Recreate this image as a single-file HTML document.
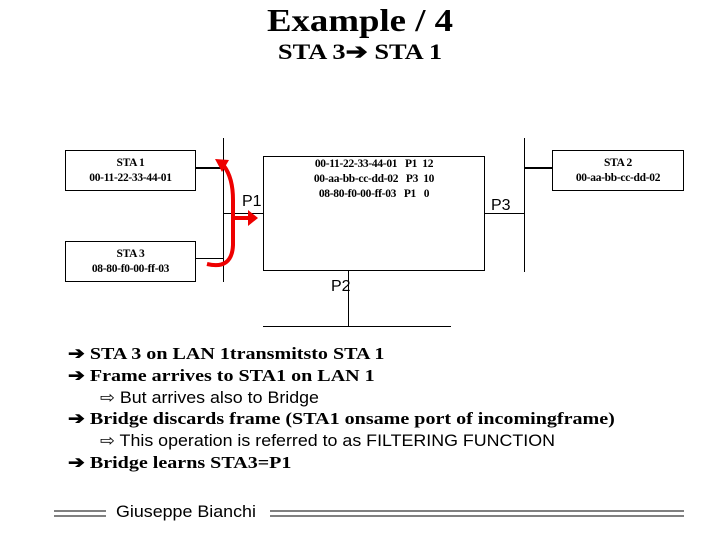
<!DOCTYPE html>
<html><head><style>
body{margin:0;width:720px;height:540px;background:#fff;position:relative;overflow:hidden;font-family:"Liberation Serif",serif}
.t{position:absolute;white-space:nowrap}
.b{position:absolute;border:1px solid #000;box-sizing:border-box;text-align:center;font-size:11.5px;line-height:15px;font-family:"Liberation Serif",serif;font-weight:bold;letter-spacing:-0.3px}
.l{position:absolute;background:#000}
.s{font-family:"Liberation Sans",sans-serif}
.bul{position:absolute;left:68px;font-weight:bold;font-size:17px;white-space:nowrap;transform:scaleX(1.18);transform-origin:0 0}
.sub{position:absolute;left:100px;font-family:"Liberation Sans",sans-serif;font-size:16.5px;white-space:nowrap;transform:scaleX(1.08);transform-origin:0 0}
</style></head><body>
<div class="t" style="left:0;width:720px;text-align:center;top:2px;font-size:32px;font-weight:bold;transform:scaleX(1.15)">Example / 4</div>
<div class="t" style="left:0;width:720px;text-align:center;top:39px;font-size:22px;font-weight:bold;transform:scaleX(1.2)">STA 3&#x2794; STA 1</div>

<div class="b" style="left:65px;top:150px;width:131px;height:41px;padding-top:5px">STA 1<br>00-11-22-33-44-01</div>
<div class="b" style="left:65px;top:241px;width:131px;height:41px;padding-top:5px">STA 3<br>08-80-f0-00-ff-03</div>
<div class="b" style="left:552px;top:150px;width:132px;height:41px;padding-top:5px">STA 2<br>00-aa-bb-cc-dd-02</div>
<div class="b" style="left:263px;top:156px;width:222px;height:115px;padding-top:0px">00-11-22-33-44-01&nbsp;&nbsp; P1&nbsp; 12<br>00-aa-bb-cc-dd-02&nbsp;&nbsp; P3&nbsp; 10<br>08-80-f0-00-ff-03&nbsp;&nbsp; P1&nbsp;&nbsp; 0</div>

<div class="l" style="left:223px;top:138px;width:1px;height:144px"></div>
<div class="l" style="left:196px;top:167px;width:27px;height:2px"></div>
<div class="l" style="left:196px;top:258px;width:27px;height:1px"></div>
<div class="l" style="left:223px;top:213px;width:40px;height:1px"></div>
<div class="l" style="left:524px;top:138px;width:1px;height:134px"></div>
<div class="l" style="left:525px;top:167px;width:27px;height:2px"></div>
<div class="l" style="left:485px;top:213px;width:39px;height:1px"></div>
<div class="l" style="left:348px;top:271px;width:1px;height:55px"></div>
<div class="l" style="left:263px;top:326px;width:188px;height:1px"></div>

<div class="t s" style="left:242px;top:193px;font-size:16px">P1</div>
<div class="t s" style="left:491px;top:197px;font-size:16px">P3</div>
<div class="t s" style="left:331px;top:278px;font-size:16px">P2</div>

<svg width="720" height="540" style="position:absolute;left:0;top:0">
<path d="M207,264 Q232,270 233,245 L233,200 Q233,178 224,166" fill="none" stroke="#e00" stroke-width="4"/>
<polygon points="215,159 229,160 222,172" fill="#e00"/>
<line x1="233" y1="218" x2="250" y2="218" stroke="#e00" stroke-width="4"/>
<polygon points="248,210 258,218 248,226" fill="#e00"/>
<line x1="54" y1="511" x2="106" y2="511" stroke="#000"/>
<line x1="54" y1="516" x2="106" y2="516" stroke="#000"/>
<line x1="270" y1="511" x2="684" y2="511" stroke="#000"/>
<line x1="270" y1="516" x2="684" y2="516" stroke="#000"/>
</svg>

<div class="bul" style="top:344px">&#x2794; STA 3 on LAN 1transmitsto STA 1</div>
<div class="bul" style="top:366px">&#x2794; Frame arrives to STA1 on LAN 1</div>
<div class="sub" style="top:388px">&#x21E8; But arrives also to Bridge</div>
<div class="bul" style="top:409px">&#x2794; Bridge discards frame (STA1 onsame port of incomingframe)</div>
<div class="sub" style="top:431px">&#x21E8; This operation is referred to as FILTERING FUNCTION</div>
<div class="bul" style="top:453px">&#x2794; Bridge learns STA3=P1</div>
<div class="t s" style="left:116px;top:502px;font-size:17px;transform:scaleX(1.05);transform-origin:0 0">Giuseppe Bianchi</div>
</body></html>
